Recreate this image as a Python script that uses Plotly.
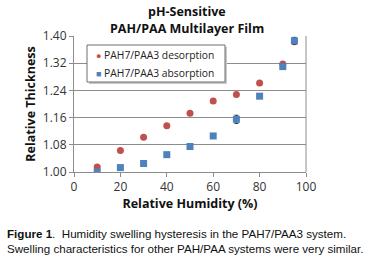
import plotly.graph_objects as go

rh_des = [10, 20, 30, 40, 50, 60, 70, 80, 90, 95]
thick_des = [1.015, 1.063, 1.102, 1.136, 1.173, 1.209, 1.228, 1.262, 1.318, 1.383]
rh_abs = [10, 20, 30, 40, 50, 60, 70, 80, 90, 95]
thick_abs = [1.000, 1.013, 1.025, 1.051, 1.075, 1.106, 1.155, 1.223, 1.310, 1.386]
err_abs = [0.003, 0.003, 0.003, 0.003, 0.003, 0.003, 0.012, 0.004, 0.008, 0.010]
y_ticks = [1.00, 1.08, 1.16, 1.24, 1.32, 1.40]
x_ticks = [0, 20, 40, 60, 80, 100]
series_names = ["PAH7/PAA3 desorption", "PAH7/PAA3 absorption"]
series_colors = ["#C0504D", "#4F81BD"]

W, H = 376, 260
L, R, T, B = 74, 70, 36, 88
pw, ph = W - L - R, H - T - B

def px(x):
    return (x - L) / pw

def py(y):
    return (H - B - y) / ph

fig = go.Figure()
fig.add_trace(go.Scatter(
    x=rh_des, y=thick_des, mode="markers", name=series_names[0],
    marker=dict(symbol="circle", size=7, color=series_colors[0]),
))
fig.add_trace(go.Scatter(
    x=rh_abs, y=thick_abs, mode="markers", name=series_names[1],
    marker=dict(symbol="square", size=7, color=series_colors[1]),
    error_y=dict(type="data", array=err_abs, color="#2a2a2a", thickness=1, width=2),
))

font_title = "Open Sans"
legend_glyphs = ["●", "■"]
legend_rows_y = [55, 73]
annotations = [
    dict(text="<b>pH-Sensitive</b>", xref="paper", yref="paper",
         x=px(187), y=py(11), xanchor="center", yanchor="middle", showarrow=False,
         font=dict(family=font_title, size=12.5, color="#111")),
    dict(text="<b>PAH/PAA Multilayer Film</b>", xref="paper", yref="paper",
         x=px(187), y=py(28), xanchor="center", yanchor="middle", showarrow=False,
         font=dict(family=font_title, size=12.5, color="#111")),
    dict(text="<b>Figure 1</b>.  Humidity swelling hysteresis in the PAH7/PAA3 system.<br>"
              "Swelling characteristics for other PAH/PAA systems were very similar.",
         xref="paper", yref="paper", x=px(5), y=py(225), xanchor="left", yanchor="top",
         align="left", showarrow=False,
         font=dict(family="Liberation Sans", size=11.6, color="#111")),
]
for name, col, glyph, ry in zip(series_names, series_colors, legend_glyphs, legend_rows_y):
    annotations.append(dict(
        text=f"<span style='color:{col};font-size:9px'>{glyph}</span> {name}",
        xref="paper", yref="paper", x=px(94), y=py(ry), xanchor="left", yanchor="middle",
        showarrow=False, font=dict(family=font_title, size=10.3, color="#222"),
    ))

shapes = [
    dict(type="line", xref="paper", yref="paper", x0=1, x1=1, y0=0, y1=1,
         line=dict(color="#8c8c8c", width=1)),
    dict(type="rect", xref="paper", yref="paper", x0=px(89), x1=px(227), y0=py(84), y1=py(47),
         line=dict(width=0), fillcolor="#c8c8c8", layer="above"),
    dict(type="rect", xref="paper", yref="paper", x0=px(87), x1=px(225), y0=py(82), y1=py(45),
         line=dict(color="#6f6f6f", width=1), fillcolor="white", layer="above"),
]

fig.update_layout(
    width=W, height=H,
    margin=dict(l=L, r=R, t=T, b=B, autoexpand=False),
    paper_bgcolor="white", plot_bgcolor="white",
    showlegend=False,
    xaxis=dict(
        range=[0, 100], tickvals=x_ticks, showgrid=False, zeroline=False,
        showline=True, linecolor="#8c8c8c", linewidth=1, mirror=False,
        ticks="outside", ticklen=4, tickcolor="#8c8c8c", automargin=False,
        tickfont=dict(family=font_title, size=12, color="#333"),
        title=dict(text="<b>Relative Humidity (%)</b>", standoff=4,
                   font=dict(family=font_title, size=12.5, color="#111")),
    ),
    yaxis=dict(
        range=[1.0, 1.4], tickvals=y_ticks, tickformat=".2f",
        showgrid=True, gridcolor="#8c8c8c", gridwidth=1, zeroline=False,
        showline=True, linecolor="#8c8c8c", linewidth=1, automargin=False,
        ticks="outside", ticklen=4, tickcolor="#8c8c8c",
        tickfont=dict(family=font_title, size=12, color="#333"),
        title=dict(text="<b>Relative Thickness</b>", standoff=4,
                   font=dict(family=font_title, size=12.5, color="#111")),
    ),
    shapes=shapes,
    annotations=annotations,
)

fig.write_html("out.html", config={"displayModeBar": False},
               post_script="document.body.style.margin='0';document.body.style.padding='0';")
